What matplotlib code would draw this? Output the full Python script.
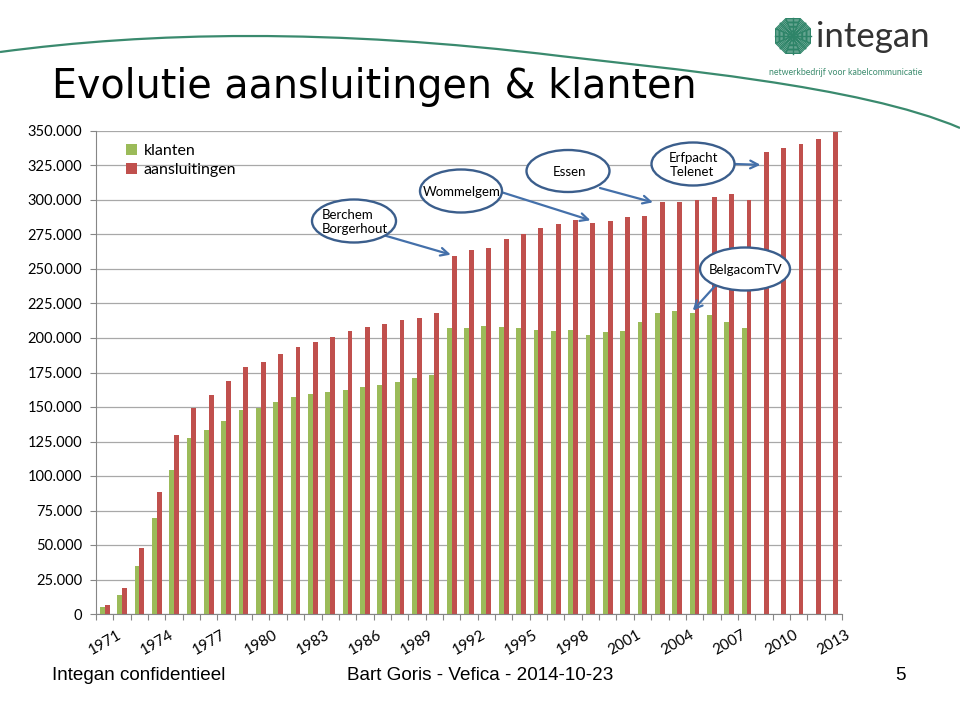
import numpy as np
import matplotlib
matplotlib.use("Agg")
import matplotlib.pyplot as plt
from matplotlib.patches import Ellipse, Polygon, PathPatch
from matplotlib.path import Path
from matplotlib.ticker import FuncFormatter, NullFormatter

# data (1971 - 2013)
years = list(range(1971, 2014))
klanten = [5300, 13800, 35000, 69800, 104000, 127300, 133600, 139900, 147600, 149500,
           153600, 157200, 159400, 161000, 162500, 164200, 165900, 168300, 171000, 173400,
           207000, 207500, 208700, 208000, 207000, 205800, 205100, 205600, 202200, 204100,
           205100, 211600, 218400, 219600, 218400, 216700, 211800, 207000]
aansluitingen = [6500, 19000, 48000, 88400, 129700, 149500, 158400, 168800, 178700, 182600,
                 188600, 193500, 197300, 201000, 204800, 208200, 209900, 213000, 214300, 217900,
                 259400, 263800, 265500, 271500, 275400, 279500, 282600, 285700, 283300, 285000,
                 287400, 288400, 298300, 298600, 299800, 302200, 304400, 300000, 334500, 337700,
                 340600, 344000, 349300]
tick_years = years[::3]

GREEN = "#9BBB59"
RED = "#C0504D"
TEAL = "#3A8A6E"
EDGE = "#3B5E8C"
ARROW = "#4470AA"
AXIS_GREY = "#868686"

fig = plt.figure(figsize=(9.6, 7.15), dpi=100)
fig.patch.set_facecolor("white")

# chart area
ax = fig.add_axes([96 / 960, 1 - 614 / 715, (842 - 96) / 960, (614 - 131) / 715])
x = np.arange(len(years))
ax.bar(x[:len(klanten)] - 0.14, klanten, width=0.28, color=GREEN, label="klanten", zorder=2)
ax.bar(x + 0.14, aansluitingen, width=0.28, color=RED, label="aansluitingen", zorder=2)

ax.set_xlim(-0.5, len(years) - 0.5)
ax.set_ylim(0, 350000)
ax.set_yticks(np.arange(0, 350001, 25000))
ax.yaxis.set_major_formatter(FuncFormatter(lambda v, p: f"{int(v):,}".replace(",", ".")))
ax.grid(axis="y", color="#A8A8A8", lw=0.9)
ax.set_axisbelow(True)
for s in ["top", "right"]:
    ax.spines[s].set_visible(False)
for s in ["left", "bottom"]:
    ax.spines[s].set_color(AXIS_GREY)
ax.tick_params(axis="y", length=4, color=AXIS_GREY, labelsize=10.5, pad=6)
for lab in ax.get_yticklabels():
    lab.set_family("Lato")

# ticks between categories, labels every third year
ax.set_xticks(np.arange(-0.5, len(years)))
ax.xaxis.set_major_formatter(NullFormatter())
ax.set_xticks(x[::3], minor=True)
ax.set_xticklabels([str(y) for y in tick_years], minor=True, rotation=30,
                   family="Lato", fontsize=11)
ax.tick_params(axis="x", which="major", length=4, color=AXIS_GREY)
ax.tick_params(axis="x", which="minor", length=0, pad=10)

ax.legend(loc="upper left", bbox_to_anchor=(126 / 960, 1 - 144 / 715),
          bbox_transform=fig.transFigure, frameon=False, handlelength=0.7,
          handleheight=0.7, handletextpad=0.4, labelspacing=0.3, borderpad=0,
          borderaxespad=0, prop={"family": "Lato", "size": 11.5})

# overlay in pixel coordinates for the slide decorations
ov = fig.add_axes([0, 0, 1, 1], zorder=5)
ov.set_xlim(0, 960)
ov.set_ylim(715, 0)
ov.axis("off")
ov.patch.set_visible(False)

# swoosh line
verts = [(0, 52), (150, 32), (330, 28), (560, 56),
         (660, 68), (860, 85), (960, 128)]
codes = [Path.MOVETO] + [Path.CURVE4] * 6
ov.add_patch(PathPatch(Path(verts, codes), fill=False, edgecolor=TEAL, lw=1.6))

# title
ov.text(52, 98, "Evolutie aansluitingen & klanten", fontsize=28.5,
        family="DejaVu Sans", color="black", va="baseline")

# logo
cx, cy = 793, 36
ang = np.deg2rad(22.5 + 45 * np.arange(8))
for r in np.arange(2, 20, 1.4):
    ov.add_patch(Polygon(np.c_[cx + r * np.cos(ang), cy + r * np.sin(ang)],
                         closed=True, fill=False, edgecolor="#2E8468", lw=0.9))
for a in np.deg2rad(np.arange(0, 360, 22.5)):
    ov.plot([cx, cx + 18 * np.cos(a)], [cy, cy + 18 * np.sin(a)], color="#2E8468", lw=1.0)
ov.text(816, 47, "integan", fontsize=25, family="Lato",
        color="#333333", va="baseline")
ov.text(769, 75, "netwerkbedrijf voor kabelcommunicatie", fontsize=6.3,
        family="Lato", color="#3C8C6E", va="baseline")

# callouts
callouts = [
    ("Berchem\nBorgerhout", (354, 221), (84, 43), (383, 235), (20 - 0.05, aansluitingen[20] + 1000)),
    ("Wommelgem", (461, 191), (82, 43), (501, 192), (28.0, aansluitingen[28] + 2000)),
    ("Essen", (568, 171), (83, 42), (600, 188), (31.6, aansluitingen[32])),
    ("Erfpacht\nTelenet", (693, 164), (83, 43), (735, 164), (37.8, aansluitingen[38] - 9000)),
    ("BelgacomTV", (745, 269), (90, 43), (715, 286), (34 - 0.1, klanten[34] + 1500)),
]
for label, centre, size, start, tip in callouts:
    ov.add_patch(Ellipse(centre, size[0], size[1], facecolor="white",
                         edgecolor=EDGE, lw=1.7, zorder=3))
    ov.text(centre[0] + 1, centre[1] + 1, label, ha="center", va="center",
            multialignment="left", family="Lato", fontsize=9.5, zorder=4,
            linespacing=1.15)
    ov.annotate("", xy=tip, xycoords=ax.transData, xytext=start, textcoords="data",
                arrowprops=dict(arrowstyle="->", color=ARROW, lw=1.6,
                                shrinkA=0, shrinkB=0, mutation_scale=14), zorder=2)

# footer
foot = dict(fontsize=13.6, family="Liberation Sans", color="black", va="baseline")
ov.text(52, 680, "Integan confidentieel", **foot)
ov.text(347, 680, "Bart Goris - Vefica - 2014-10-23", **foot)
ov.text(900, 680, "5", ha="center", **foot)

fig.savefig("out.png", dpi=100, facecolor="white")
